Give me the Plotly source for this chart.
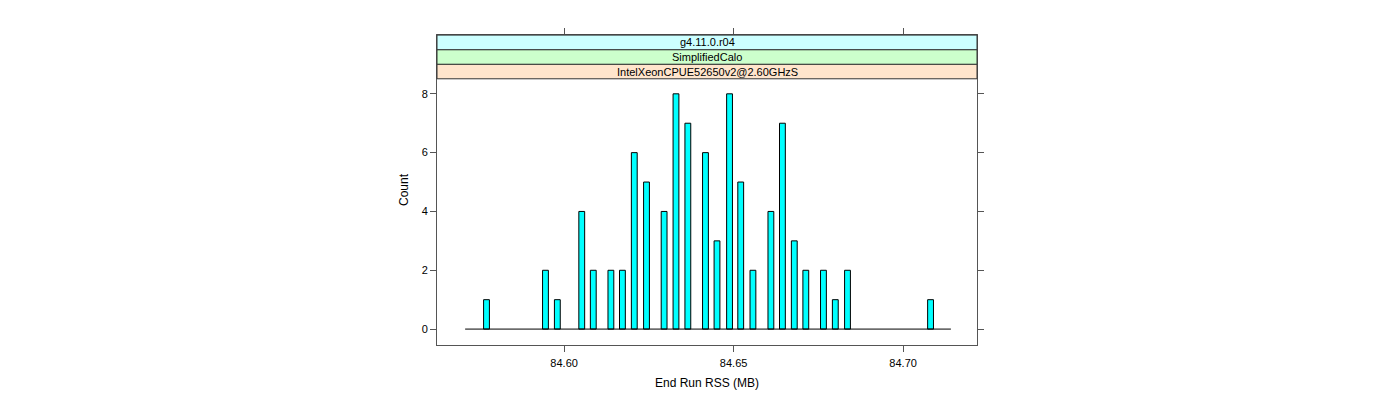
import plotly.graph_objects as go

# bin centres (MB) and counts
rss_mb = [84.5771, 84.5945, 84.5980, 84.6052, 84.6086, 84.6138, 84.6172, 84.6207,
          84.6243, 84.6295, 84.6330, 84.6365, 84.6417, 84.6451, 84.6488, 84.6521,
          84.6557, 84.6610, 84.6644, 84.6679, 84.6713, 84.6765, 84.6800, 84.6836,
          84.7081]
counts = [1, 2, 1, 4, 2, 2, 2, 6, 5, 4, 8, 7, 6, 3, 8, 5, 2, 4, 7, 3, 2, 2, 1, 2, 1]
hist_range = [84.5708, 84.7141]
bin_width = 0.00172

x_ticks = [84.60, 84.65, 84.70]
x_labels = ['84.60', '84.65', '84.70']
y_ticks = [0, 2, 4, 6, 8]

strips = ['IntelXeonCPUE52650v2@2.60GHzS', 'SimplifiedCalo', 'g4.11.0.r04']
strip_colors = ['#ffe5cc', '#ccffcc', '#ccffff']

x_range = [84.5625, 84.7218]
y_range = [-0.541, 10.0]

fig = go.Figure()

# zero-count bins show up as a flat line along the base
fig.add_trace(go.Scatter(x=hist_range, y=[0, 0], mode='lines',
                         line=dict(color='black', width=1), hoverinfo='skip'))
fig.add_trace(go.Bar(x=rss_mb, y=counts, width=bin_width,
                     marker=dict(color='#00ffff', line=dict(color='black', width=1))))

# dummy trace for the mirrored tick axes
fig.add_trace(go.Scatter(x=hist_range, y=[0, 0], xaxis='x2', yaxis='y2',
                         mode='none', hoverinfo='skip'))

axis_common = dict(showgrid=False, zeroline=False, showline=True, linecolor='#555555',
                   linewidth=1, ticks='outside', ticklen=6, tickcolor='#555555',
                   tickfont=dict(size=11, color='black'))

# page body has an 8px margin, so the figure is 8px smaller and margins shifted
fig.update_layout(
    width=1392, height=392,
    margin=dict(l=429, r=423, t=27, b=50),
    plot_bgcolor='white', paper_bgcolor='white',
    font=dict(family='Liberation Sans, Arial, sans-serif', size=11, color='black'),
    showlegend=False,
    xaxis=dict(range=x_range, tickvals=x_ticks, ticktext=x_labels, mirror=True,
               ticklabelstandoff=2,
               title=dict(text='End Run RSS (MB)', font=dict(size=12), standoff=10),
               **axis_common),
    yaxis=dict(range=y_range, tickvals=y_ticks, mirror=True,
               title=dict(text='Count', font=dict(size=12), standoff=10),
               **axis_common),
    xaxis2=dict(range=x_range, tickvals=x_ticks, overlaying='x', side='top',
                showticklabels=False, anchor='y2', **axis_common),
    yaxis2=dict(range=y_range, tickvals=y_ticks, overlaying='y', side='right',
                showticklabels=False, anchor='x2', **axis_common),
)

# strips stacked above the panel
strip_h = 14.8 / 315
panel_top = (350 - 79.5) / 315
for i, (label, col) in enumerate(zip(strips, strip_colors)):
    y0 = panel_top + i * strip_h
    fig.add_shape(type='rect', xref='paper', yref='paper', x0=0, x1=1,
                  y0=y0, y1=y0 + strip_h, fillcolor=col,
                  line=dict(color='#333333', width=1), layer='above')
    fig.add_annotation(x=0.5, y=y0 + strip_h / 2, xref='paper', yref='paper',
                       yanchor='middle', text=label, showarrow=False,
                       font=dict(size=11, color='black'))

fig.write_html('out.html')
